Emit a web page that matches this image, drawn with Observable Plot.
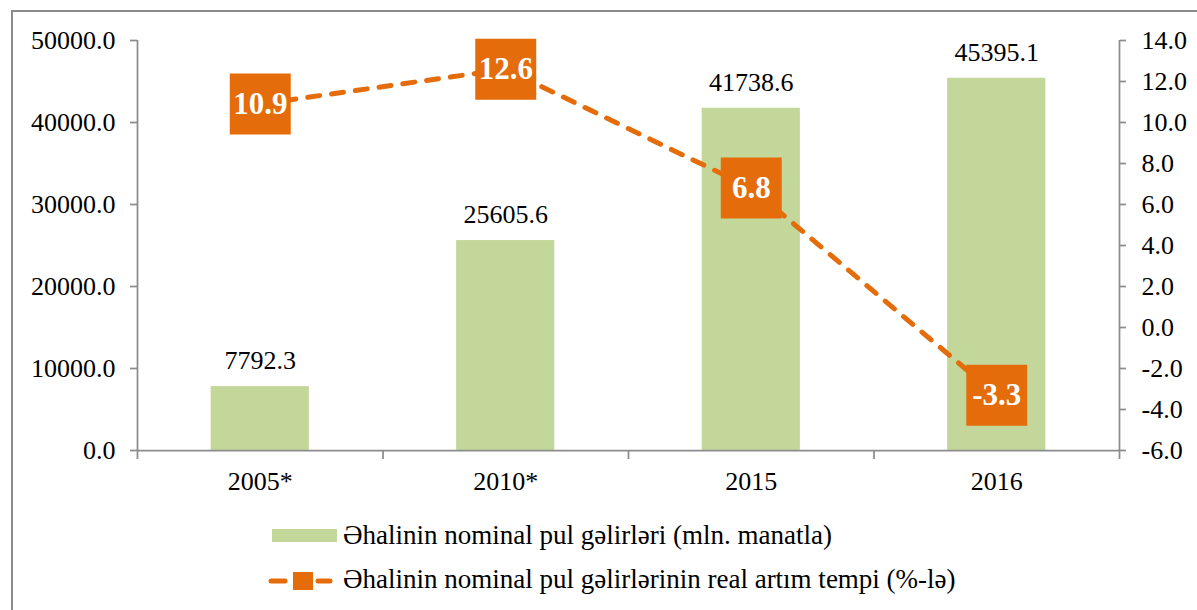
<!DOCTYPE html>
<html>
<head>
<meta charset="utf-8">
<script src="https://cdn.jsdelivr.net/npm/d3@7"></script>
<script src="https://cdn.jsdelivr.net/npm/@observablehq/plot@0.6"></script>
<style>
  html, body { margin: 0; padding: 0; background: #fff; }
  #wrap { position: relative; width: 1197px; height: 610px; overflow: hidden; font-family: "Liberation Serif", "Times New Roman", serif; }
  #border { position: absolute; left: 11px; top: 10px; width: 1300px; height: 700px; border: 2px solid #8c8c8c; box-sizing: border-box; }
  #chart { position: absolute; left: 0; top: 0; }
  .leg { position: absolute; font-family: "Liberation Serif", "Times New Roman", serif; font-size: 27px; color: #000; white-space: nowrap; line-height: 1; }
</style>
</head>
<body>
<div id="wrap">
  <div id="border"></div>
  <div id="chart"></div>
  <div id="legend"></div>
</div>
<script>
// ---- data ----
const years = ["2005*", "2010*", "2015", "2016"];
const incomes = [7792.3, 25605.6, 41738.6, 45395.1];   // mln. manat (left axis)
const growth = [10.9, 12.6, 6.8, -3.3];                 // % (right axis)
const leftTicks = [0, 10000, 20000, 30000, 40000, 50000];
const rightTicks = [-6, -4, -2, 0, 2, 4, 6, 8, 10, 12, 14];
const legendLabels = [
  "Əhalinin nominal pul gəlirləri (mln. manatla)",
  "Əhalinin nominal pul gəlirlərinin real artım tempi (%-lə)"
];

const GREEN = "#c4d79b";
const ORANGE = "#e46c0a";
const AXIS = "#8c8c8c";
const FONT = "Liberation Serif, Times New Roman, serif";

const data = years.map((y, i) => ({year: y, income: incomes[i], rate: growth[i]}));

const L = [leftTicks[0], leftTicks[leftTicks.length - 1]];
const R = [rightTicks[0], rightTicks[rightTicks.length - 1]];
const toLeft = v => (v - R[0]) / (R[1] - R[0]) * (L[1] - L[0]) + L[0];
const fromLeft = v => (v - L[0]) / (L[1] - L[0]) * (R[1] - R[0]) + R[0];

const W = 1197, H = 510, mL = 137, mR = 78, mT = 40, mB = 60;
const step = (W - mL - mR) / years.length;

const chart = Plot.plot({
  width: W, height: H,
  marginLeft: mL, marginRight: mR, marginTop: mT, marginBottom: mB,
  style: {fontFamily: FONT, fontSize: "26px", color: "#000", background: "transparent", overflow: "visible"},
  x: {type: "band", domain: years, paddingInner: 0.6, paddingOuter: 0.3, round: false, axis: null, label: null},
  y: {domain: L, axis: null, label: null},
  marks: [
    Plot.barY(data, {x: "year", y: "income", fill: GREEN}),
    // axis lines
    Plot.ruleY([0], {stroke: AXIS, strokeWidth: 1.75}),
    Plot.ruleX([years[0]], {x: d => d, dx: -step / 2, y1: L[1], y2: 0, insetBottom: -9, stroke: AXIS, strokeWidth: 1.75}),
    Plot.ruleX([years[years.length - 1]], {x: d => d, dx: step / 2, y1: L[1], y2: 0, insetBottom: -9, stroke: AXIS, strokeWidth: 1.75}),
    Plot.ruleX(years.slice(1), {x: d => d, dx: -step / 2, y1: 0, y2: 0, insetBottom: -9, stroke: AXIS, strokeWidth: 1.75}),
    Plot.axisY({anchor: "left", label: null, ticks: leftTicks, tickFormat: d => d.toFixed(1), tickSize: 7, tickPadding: 15, stroke: AXIS, fill: "#000", strokeWidth: 1.75, fontSize: 26}),
    Plot.axisY({anchor: "right", label: null, ticks: rightTicks.map(toLeft), tickFormat: d => fromLeft(d).toFixed(1), tickSize: 6, tickPadding: 16, stroke: AXIS, fill: "#000", strokeWidth: 1.75, fontSize: 26}),
    Plot.axisX({anchor: "bottom", label: null, tickSize: 0, tickPadding: 21, fill: "#000", fontSize: 26}),
    // bar value labels
    Plot.text(data, {x: "year", y: "income", text: d => d.income.toFixed(1), dy: -26, fontSize: 26, fill: "#000"}),
    // growth line
    Plot.line(data, {x: "year", y: d => toLeft(d.rate), stroke: ORANGE, strokeWidth: 5, strokeDasharray: "12,12", strokeLinecap: "round"}),
    Plot.dot(data, {x: "year", y: d => toLeft(d.rate), symbol: "square", r: 34.4, fill: ORANGE, stroke: null}),
    Plot.text(data, {x: "year", y: d => toLeft(d.rate), text: d => d.rate.toFixed(1), fill: "#fff", fontWeight: "bold", fontSize: 31})
  ]
});
document.getElementById("chart").appendChild(chart);

// ---- legend ----
const leg = document.getElementById("legend");
leg.innerHTML = `
  <div style="position:absolute;left:272px;top:529px;width:65px;height:13px;background:${GREEN}"></div>
  <div class="leg" style="left:343px;top:522px;">${legendLabels[0]}</div>
  <svg style="position:absolute;left:266px;top:570px;" width="70" height="22">
    <line x1="5" y1="11" x2="19" y2="11" stroke="${ORANGE}" stroke-width="5" stroke-linecap="round"/>
    <line x1="52" y1="11" x2="64" y2="11" stroke="${ORANGE}" stroke-width="5" stroke-linecap="round"/>
    <rect x="27" y="2" width="20" height="18" fill="${ORANGE}"/>
  </svg>
  <div class="leg" style="left:343px;top:566px;">${legendLabels[1]}</div>
`;
</script>
</body>
</html>
